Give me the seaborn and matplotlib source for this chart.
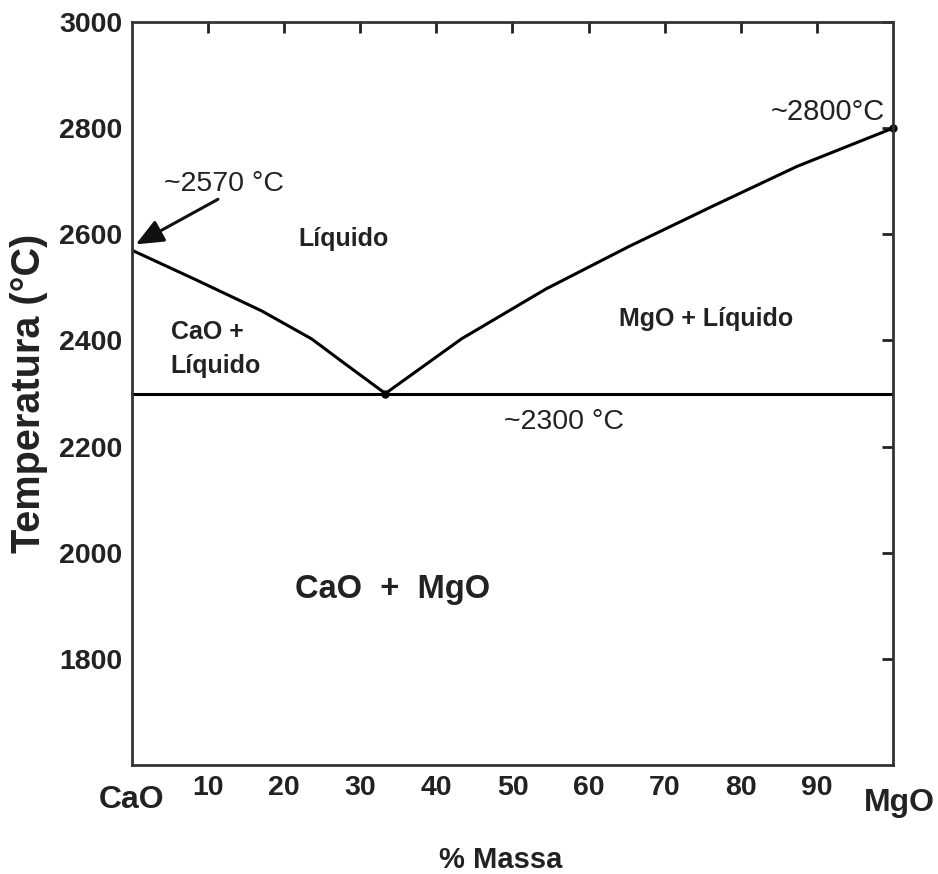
import matplotlib
matplotlib.use("Agg")
import matplotlib.pyplot as plt
import seaborn as sns
import pandas as pd

# ---- data ----
left_x = [0, 8.3, 17, 23.6, 28, 33.3]
left_T = [2570, 2515, 2456, 2403, 2356, 2300]
right_x = [33.3, 43.3, 54.4, 65.3, 76.3, 87.4, 100]
right_T = [2300, 2403, 2497, 2577, 2653, 2728, 2800]
eut_x = [0, 100]
eut_T = [2300, 2300]
xticks = [10, 20, 30, 40, 50, 60, 70, 80, 90]
yticks = [1800, 2000, 2200, 2400, 2600, 2800, 3000]

sns.set_theme(style="white")
plt.rcParams['font.family'] = ['Liberation Sans', 'DejaVu Sans']

fig = plt.figure(figsize=(9.38, 8.74), dpi=100)
ax = fig.add_axes([0.1407, 0.1247, 0.8113, 0.8501])

lw = 2.2
df_l = pd.DataFrame({"x": left_x, "T": left_T})
df_r = pd.DataFrame({"x": right_x, "T": right_T})
df_e = pd.DataFrame({"x": eut_x, "T": eut_T})
sns.lineplot(data=df_l, x="x", y="T", ax=ax, color="black", lw=lw, sort=False)
sns.lineplot(data=df_r, x="x", y="T", ax=ax, color="black", lw=lw, sort=False)
sns.lineplot(data=df_e, x="x", y="T", ax=ax, color="black", lw=lw, sort=False)
ax.plot([right_x[0]], [right_T[0]], 'o', color='black', ms=5, clip_on=False)
ax.plot([right_x[-1]], [right_T[-1]], 'o', color='black', ms=5, clip_on=False)

ax.set_xlim(0, 100)
ax.set_ylim(1600, 3000)
ax.set_xticks(xticks)
ax.set_yticks(yticks)
ax.set_xticklabels([str(v) for v in xticks], fontsize=20.5, fontweight='bold', color='#222222')
ax.set_yticklabels([str(v) for v in yticks], fontsize=20.5, fontweight='bold', color='#222222')
ax.tick_params(axis='both', direction='in', length=8, width=2, color='#222222',
               top=True, right=True, pad=7)
ax.tick_params(axis='x', labeltop=False)
for s in ax.spines.values():
    s.set_linewidth(2)
    s.set_color('#333333')

ax.set_ylabel("Temperatura (°C)", fontsize=28.5, fontweight='bold', color='#222222', labelpad=8)
ax.set_xlabel("% Massa", fontsize=21, fontweight='bold', color='#222222', va='center')
ax.xaxis.set_label_coords((501 - 132) / 761, -(860 - 765) / 743)

ax.text(0, -0.047, "CaO", transform=ax.get_xaxis_transform(), fontsize=23,
        fontweight='bold', ha='center', va='center', color='#222222')
ax.text(100.9, -0.051, "MgO", transform=ax.get_xaxis_transform(), fontsize=23,
        fontweight='bold', ha='center', va='center', color='#222222')

ax.text(27.8, 2591, "Líquido", fontsize=18, fontweight='bold', ha='center', va='center', color='#222222')
ax.text(5.1, 2416, "CaO +", fontsize=18, fontweight='bold', ha='left', va='center', color='#222222')
ax.text(5.1, 2352, "Líquido", fontsize=18, fontweight='bold', ha='left', va='center', color='#222222')
ax.text(75.4, 2440, "MgO + Líquido", fontsize=18, fontweight='bold', ha='center', va='center', color='#222222')
ax.text(34.3, 1930, "CaO  +  MgO", fontsize=23.5, fontweight='bold', ha='center', va='center', color='#222222')
ax.text(56.8, 2247, "~2300 °C", fontsize=20.5, ha='center', va='center', color='#222222')
ax.text(91.4, 2831, "~2800°C", fontsize=21, ha='center', va='center', color='#222222')
ax.text(12.1, 2694, "~2570 °C", fontsize=20.5, ha='center', va='center', color='#222222')
ax.annotate("", xy=(0.5, 2581), xytext=(11.3, 2666),
            arrowprops=dict(arrowstyle='-|>,head_length=1.4,head_width=0.6', color='#111111', lw=2.2,
                            shrinkA=0, shrinkB=0))

fig.savefig("out.png", dpi=100, facecolor='white')
